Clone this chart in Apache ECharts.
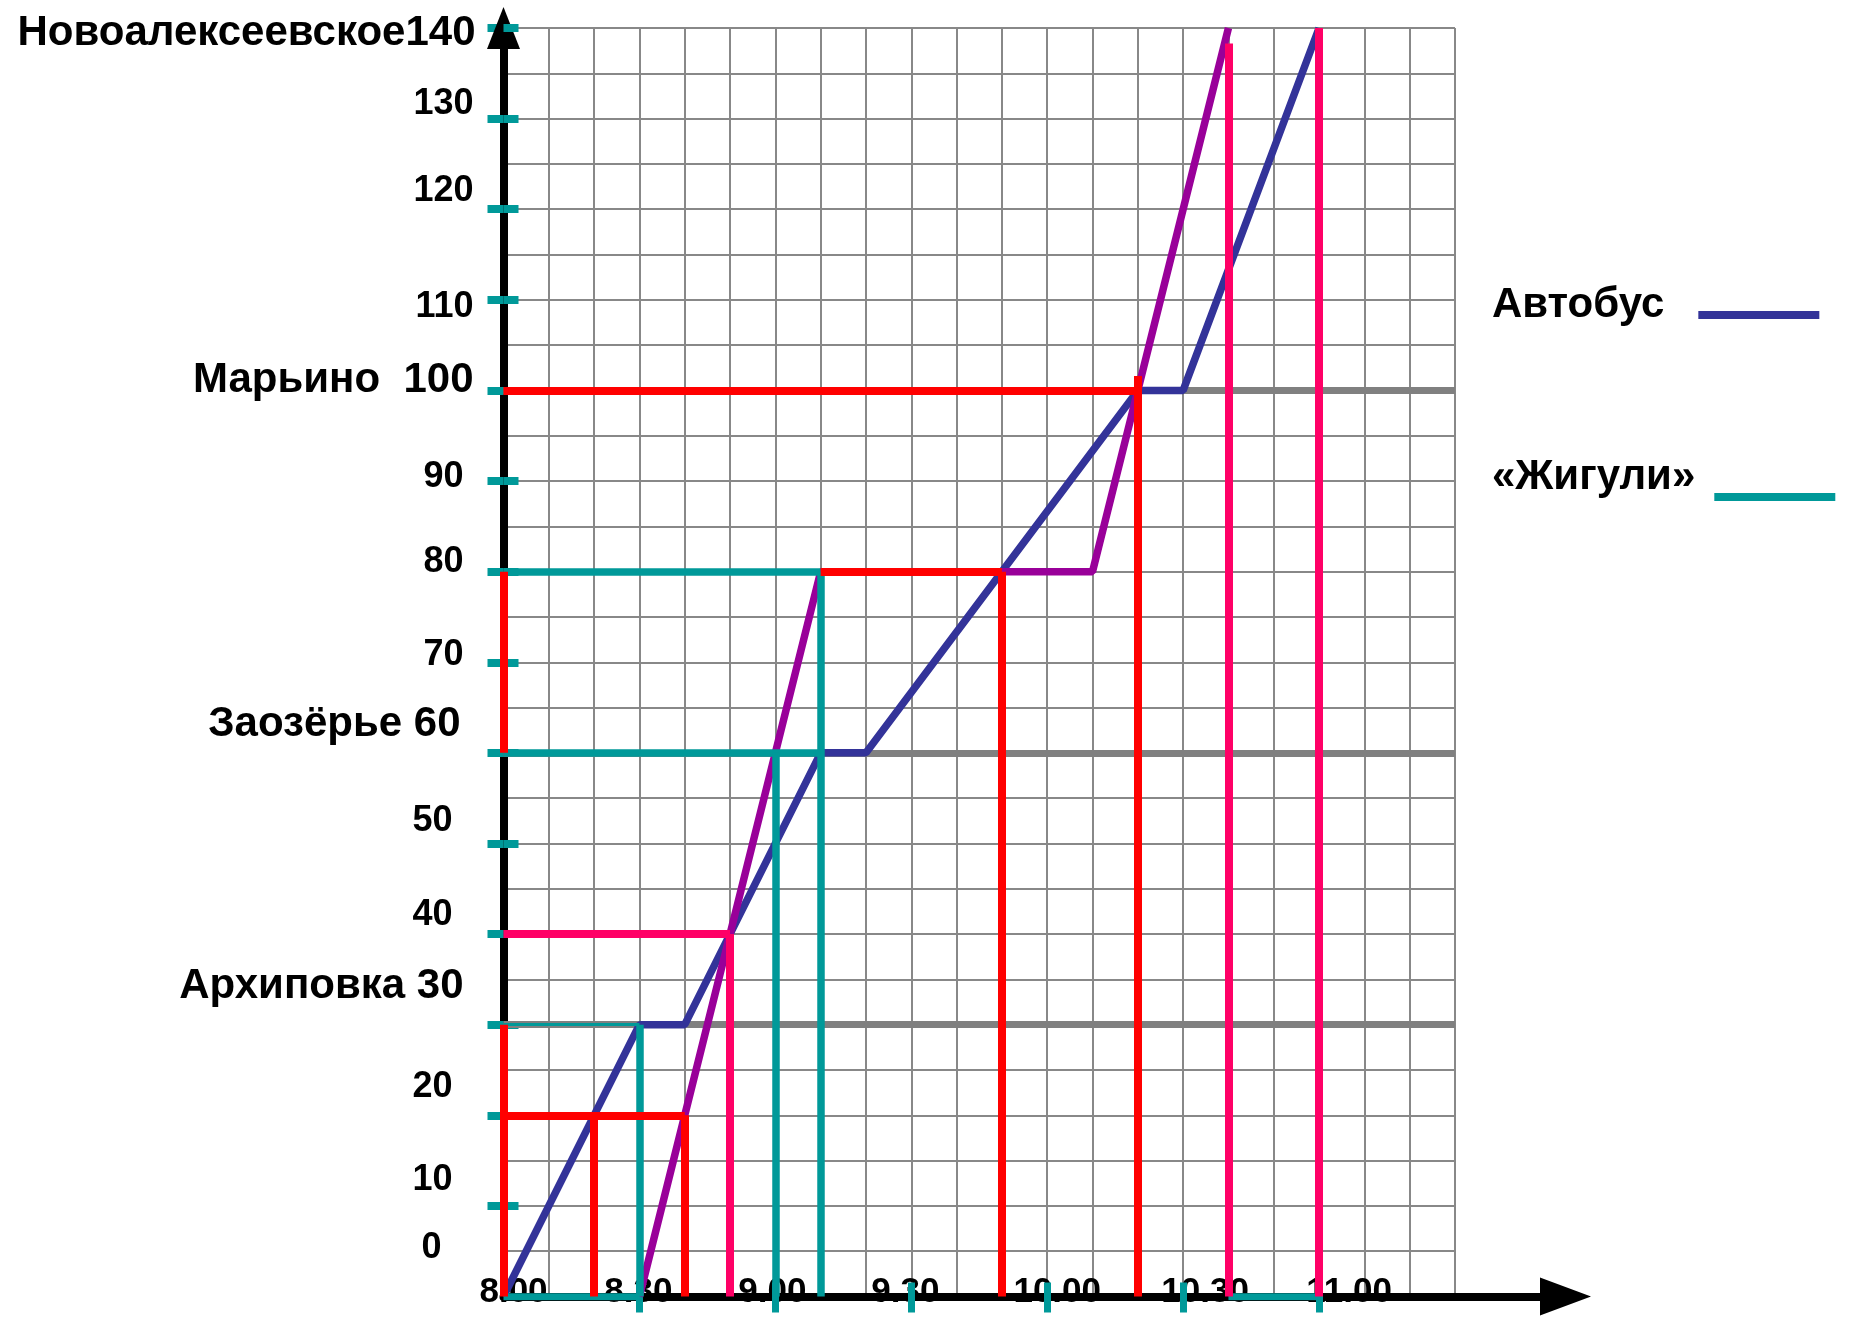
<!DOCTYPE html>
<html lang="ru">
<head>
<meta charset="utf-8">
<title>График движения</title>
<script src="https://cdn.jsdelivr.net/npm/echarts@6/dist/echarts.min.js"></script>
<style>
  html, body { margin: 0; padding: 0; background: #fff; }
  #chart { width: 1864px; height: 1326px; }
</style>
</head>
<body>
<div id="chart"></div>
<script>
// --- data (time written as on the chart: "8.30" = 8:30) ---
const busTimes = ['8.00', '8.30', '8.40', '9.10', '9.20', '10.20', '10.30', '11.00'];
const busKm = [0, 30, 30, 60, 60, 100, 100, 140];

const carTimes = ['8.30', '9.10', '10.10', '10.40'];
const carKm = [0, 80, 80, 140];

const stationNames = ['Архиповка', 'Заозёрье', 'Марьино', 'Новоалексеевское'];
const stationKm = [30, 60, 100, 140];
const stationSep = [' ', ' ', '  ', ''];
const stationLineKm = [30, 60, 100];

const kmLabels = [0, 10, 20, 30, 40, 50, 60, 70, 80, 90, 100, 110, 120, 130, 140];
const kmTicks = [10, 20, 30, 40, 50, 60, 70, 80, 90, 100, 110, 120, 130, 140];
const timeLabels = ['8.00', '8.30', '9.00', '9.30', '10.00', '10.30', '11.00'];
const timeTicks = ['8.30', '9.00', '9.30', '10.00', '10.30', '11.00'];

// helper lines drawn on the chart: [time1, km1, time2, km2]
const tealSegs = [
  ['8.00', 80, '9.10', 80], ['9.10', 80, '9.10', 0],
  ['8.00', 60, '9.10', 60], ['9.00', 60, '9.00', 0],
  ['8.30', 30, '8.30', 0], ['8.00', 0, '8.30', 0],
  ['10.40', 0, '11.00', 0]
];
const tealThinSegs = [['8.00', 30, '8.30', 30]];
const redSegs = [
  ['8.00', 80, '8.00', 60], ['8.00', 30, '8.00', 0],
  ['8.00', 20, '8.40', 20], ['8.20', 20, '8.20', 0], ['8.40', 20, '8.40', 0],
  ['9.10', 80, '9.50', 80], ['9.50', 80, '9.50', 0],
  ['8.00', 100, '10.20', 100], ['10.20', 101.6, '10.20', 0]
];
const pinkSegs = [
  ['8.00', 40, '8.50', 40], ['8.50', 40, '8.50', 0],
  ['10.40', 138.3, '10.40', 0], ['11.00', 140, '11.00', 0]
];

// --- look ---
const FONT = "'Liberation Sans', Arial, sans-serif";
const TEAL = '#009999';
const GRID_LINE = '#888888';

// small nudges of hand-placed labels, px: [left, up]
const yNudge = {
  0: [34, 48], 10: [23, 26], 20: [23, 28], 30: [12, 38], 40: [23, 19],
  50: [23, 22], 60: [15, 28], 70: [12, 7], 80: [12, 10], 90: [12, 4],
  100: [2, 10], 110: [2, -7], 120: [2, 18], 130: [2, 15], 140: [0, -5]
};
const xNudge = { 480: 10, 510: -1, 540: -3, 570: -6, 600: 10, 630: 22, 660: 30 };

function toMin(t) {
  const parts = t.split('.');
  return Number(parts[0]) * 60 + Number(parts[1]);
}

function fmtTime(v) {
  const h = Math.floor(v / 60);
  const m = v % 60;
  return h + '.' + (m < 10 ? '0' + m : m);
}

function kmText(v) {
  const i = stationKm.indexOf(v);
  return i >= 0 ? stationNames[i] + stationSep[i] + v : String(v);
}

function segData(segs) {
  return segs.map(s => ({ coords: [[toMin(s[0]), s[1]], [toMin(s[2]), s[3]]] }));
}

function segSeries(segs, color, width, z) {
  return {
    type: 'lines',
    coordinateSystem: 'cartesian2d',
    xAxisIndex: 0,
    yAxisIndex: 0,
    silent: true,
    z: z,
    lineStyle: { color: color, width: width, opacity: 1, curveness: 0 },
    data: segData(segs)
  };
}

const yRich = {};
kmLabels.forEach(v => {
  const n = yNudge[v] || [0, 0];
  yRich['y' + v] = {
    fontFamily: FONT,
    fontWeight: 'bold',
    color: '#000',
    fontSize: stationKm.indexOf(v) >= 0 ? 42 : 36,
    padding: [Math.max(-n[1], 0) * 2, n[0], Math.max(n[1], 0) * 2, 0]
  };
});

const xRich = {};
timeLabels.forEach(t => {
  const v = toMin(t);
  const s = xNudge[v] || 0;
  xRich['x' + v] = {
    fontFamily: FONT,
    fontWeight: 'bold',
    color: '#000',
    fontSize: 35,
    padding: [0, s < 0 ? -2 * s : 0, 0, s > 0 ? 2 * s : 0]
  };
});

const gridBox = { left: 503.5, top: 28, width: 951.5, height: 1268.5 };

const option = {
  animation: false,
  backgroundColor: '#fff',
  textStyle: { fontFamily: FONT },
  grid: [
    gridBox,
    // wider box, only to carry the long x axis arrow
    { left: 503.5, top: 28, width: 1062, height: 1268.5 }
  ],
  legend: [
    {
      orient: 'vertical', left: 1492, top: 284, padding: 0,
      align: 'right', icon: 'rect', itemWidth: 121, itemHeight: 8,
      selectedMode: false,
      data: [{ name: 'Автобус', itemStyle: { color: '#333399' } }],
      formatter: '{t|{name}}',
      textStyle: {
        rich: { t: { fontFamily: FONT, fontWeight: 'bold', fontSize: 42, color: '#000', padding: [0, 29, 20, 0] } }
      }
    },
    {
      orient: 'vertical', left: 1492, top: 456, padding: 0,
      align: 'right', icon: 'rect', itemWidth: 121, itemHeight: 8,
      selectedMode: false,
      data: [{ name: '«Жигули»', itemStyle: { color: TEAL } }],
      formatter: '{t|{name}}',
      textStyle: {
        rich: { t: { fontFamily: FONT, fontWeight: 'bold', fontSize: 42, color: '#000', padding: [0, 14, 40, 0] } }
      }
    }
  ],
  xAxis: [
    { // grid lines + labels
      gridIndex: 0, type: 'value', position: 'bottom',
      min: 480, max: 690, interval: 10,
      axisLine: { show: false },
      axisTick: { show: false },
      splitLine: { show: true, showMinLine: false, lineStyle: { color: GRID_LINE, width: 2 } },
      axisLabel: {
        customValues: timeLabels.map(toMin),
        margin: -4,
        verticalAlign: 'middle',
        formatter: v => '{x' + v + '|' + fmtTime(v) + '}',
        rich: xRich
      }
    },
    { // black axis with arrow
      gridIndex: 1, type: 'value', position: 'bottom', min: 0, max: 1, z: 1,
      axisLine: {
        show: true, onZero: false,
        symbol: ['none', 'triangle'], symbolSize: [38, 51],
        lineStyle: { color: '#000', width: 8 }
      },
      axisTick: { show: false }, axisLabel: { show: false }, splitLine: { show: false }
    },
    { // teal ticks below
      gridIndex: 0, type: 'value', position: 'bottom', min: 480, max: 690, interval: 10, z: 2,
      axisLine: { show: false }, axisLabel: { show: false }, splitLine: { show: false },
      axisTick: { show: true, customValues: timeTicks.map(toMin), length: 16, lineStyle: { color: TEAL, width: 7 } }
    },
    { // teal ticks above
      gridIndex: 0, type: 'value', position: 'bottom', min: 480, max: 690, interval: 10, z: 2,
      axisLine: { show: false }, axisLabel: { show: false }, splitLine: { show: false },
      axisTick: { show: true, inside: true, customValues: timeTicks.map(toMin), length: 14, lineStyle: { color: TEAL, width: 7 } }
    }
  ],
  yAxis: [
    { // grid lines + labels
      gridIndex: 0, type: 'value', position: 'left',
      min: 0, max: 140, interval: 5,
      axisLine: { show: false },
      axisTick: { show: false },
      splitLine: { show: true, showMinLine: false, lineStyle: { color: GRID_LINE, width: 2 } },
      axisLabel: {
        customValues: kmLabels,
        margin: 28,
        showMinLabel: true,
        showMaxLabel: true,
        formatter: v => '{y' + v + '|' + kmText(v) + '}',
        rich: yRich
      }
    },
    { // black axis with arrow and outer teal ticks
      gridIndex: 0, type: 'value', position: 'left', min: 0, max: 140, interval: 5, z: 1,
      axisLine: {
        show: true, onZero: false,
        symbol: ['none', 'triangle'], symbolSize: [33, 42],
        lineStyle: { color: '#000', width: 8 }
      },
      axisTick: { show: true, customValues: kmTicks, length: 16, lineStyle: { color: TEAL, width: 8 } },
      axisLabel: { show: false }, splitLine: { show: false }
    },
    { // inner teal ticks
      gridIndex: 0, type: 'value', position: 'left', min: 0, max: 140, interval: 5, z: 2,
      axisLine: { show: false }, axisLabel: { show: false }, splitLine: { show: false },
      axisTick: { show: true, inside: true, customValues: kmTicks, length: 15, lineStyle: { color: TEAL, width: 8 } }
    },
    {
      gridIndex: 1, type: 'value', min: 0, max: 1, show: false
    }
  ],
  series: [
    {
      type: 'lines', coordinateSystem: 'cartesian2d', xAxisIndex: 0, yAxisIndex: 0,
      silent: true, z: 3,
      lineStyle: { color: '#808080', width: 7, opacity: 1 },
      data: stationLineKm.map(k => ({ coords: [[toMin('8.00'), k], [toMin('11.30'), k]] }))
    },
    {
      name: 'Автобус', type: 'line', xAxisIndex: 0, yAxisIndex: 0, z: 4,
      showSymbol: false, silent: true,
      lineStyle: { color: '#333399', width: 7.5 },
      itemStyle: { color: '#333399' },
      data: busTimes.map((t, i) => [toMin(t), busKm[i]])
    },
    {
      name: '«Жигули»', type: 'line', xAxisIndex: 0, yAxisIndex: 0, z: 4,
      showSymbol: false, silent: true,
      lineStyle: { color: '#990099', width: 7.5 },
      itemStyle: { color: '#990099' },
      data: carTimes.map((t, i) => [toMin(t), carKm[i]])
    },
    segSeries(tealSegs, TEAL, 7.5, 5),
    segSeries(tealThinSegs, TEAL, 3, 5),
    segSeries(redSegs, '#ff0000', 8, 6),
    segSeries(pinkSegs, '#ff0066', 8, 6)
  ]
};

const chart = echarts.init(document.getElementById('chart'));
chart.setOption(option);
</script>
</body>
</html>
